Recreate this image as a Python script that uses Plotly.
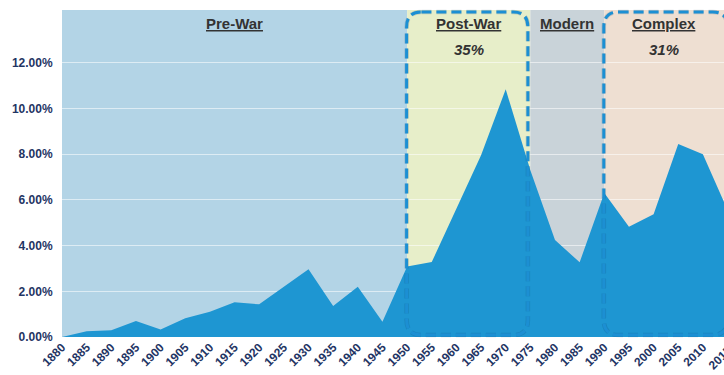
import plotly.graph_objects as go

# Share of output by year (percent)
years = list(range(1880, 2016, 5))
share = [0.0, 0.25, 0.3, 0.7, 0.33, 0.82, 1.1, 1.52, 1.43, 2.2,
         2.96, 1.36, 2.2, 0.67, 3.08, 3.28, 5.6, 7.95, 10.84, 7.3,
         4.24, 3.27, 6.3, 4.83, 5.37, 8.45, 8.0, 5.55]

# Eras: name, start, end, background colour
era_names = ["Pre-War", "Post-War", "Modern", "Complex"]
era_start = [1880, 1950, 1975, 1990]
era_end = [1950, 1975, 1990, 2016]
era_colors = ["#B3D4E6", "#E7EEC9", "#C9D3D9", "#EEDFD2"]

# Highlighted eras, their share labels and frame extents (years)
highlight_eras = ["Post-War", "Complex"]
highlight_text = ["35%", "31%"]
frame_start = [1949.9, 1989.9]
frame_end = [1974.5, 2015.0]

y_ticks = [0, 2, 4, 6, 8, 10, 12]

X_MIN, X_MAX = 1880, 2014.28
Y_MAX = 14.31

NAVY = "#1F3564"
AREA = "#1E96D2"
FONT = "Arial, Liberation Sans, sans-serif"

fig = go.Figure()

fig.add_trace(go.Scatter(
    x=years, y=share, mode="lines", fill="tozeroy",
    line=dict(width=0, color=AREA), fillcolor=AREA,
    hoverinfo="x+y", showlegend=False,
))

shapes = []
annotations = []

# Era background bands (above gridlines, below the area)
for name, s, e, c in zip(era_names, era_start, era_end, era_colors):
    shapes.append(dict(type="rect", xref="x", yref="paper", x0=s, x1=e, y0=0, y1=1,
                       fillcolor=c, line=dict(width=0), layer="between"))
    vis_end = min(e, X_MAX)
    annotations.append(dict(x=(s + vis_end) / 2, y=0.96, xref="x", yref="paper",
                            text="<b><u>" + name + "</u></b>", showarrow=False,
                            font=dict(family=FONT, size=15, color="#333333"),
                            xanchor="center", yanchor="middle"))


def rounded_path(x0, x1, y0, y1, rx, ry):
    return (f"M {x0 + rx},{y1} L {x1 - rx},{y1} Q {x1},{y1} {x1},{y1 - ry} "
            f"L {x1},{y0 + ry} Q {x1},{y0} {x1 - rx},{y0} "
            f"L {x0 + rx},{y0} Q {x0},{y0} {x0},{y0 + ry} "
            f"L {x0},{y1 - ry} Q {x0},{y1} {x0 + rx},{y1} Z")


# Dashed rounded frames around the highlighted eras
for name, label, fs, fe in zip(highlight_eras, highlight_text, frame_start, frame_end):
    i = era_names.index(name)
    path = rounded_path(fs, fe, 0.006, 0.994, 3.0, 0.046)
    shapes.append(dict(type="path", path=path, xref="x", yref="paper",
                       line=dict(color="rgba(10,50,90,0.16)", width=4.5, dash="10px,5px"),
                       layer="above"))
    shapes.append(dict(type="path", path=path, xref="x", yref="paper",
                       line=dict(color="#1C8FD3", width=3, dash="10px,5px"),
                       layer="above"))
    vis_end = min(era_end[i], X_MAX)
    annotations.append(dict(x=(era_start[i] + vis_end) / 2, y=0.878, xref="x", yref="paper",
                            text="<b><i>" + label + "</i></b>", showarrow=False,
                            font=dict(family=FONT, size=15, color="#333333"),
                            xanchor="center", yanchor="middle"))

# Final year tick label sits just past the visible range
x_visible = [y for y in years if y <= X_MAX]
for yr in years:
    if yr > X_MAX:
        annotations.append(dict(x=(yr - X_MIN) / (X_MAX - X_MIN), y=-0.012,
                                xref="paper", yref="paper", text="<b>" + str(yr) + "</b>",
                                textangle=-45, showarrow=False, xanchor="right",
                                yanchor="top", xshift=10,
                                font=dict(family=FONT, size=12, color=NAVY)))

fig.update_layout(
    width=724, height=375,
    margin=dict(l=62, r=0, t=10, b=38),
    paper_bgcolor="white", plot_bgcolor="white",
    shapes=shapes, annotations=annotations,
    font=dict(family=FONT, color=NAVY),
    xaxis=dict(range=[X_MIN, X_MAX], tickvals=x_visible,
               ticktext=["<b>" + str(v) + "</b>" for v in x_visible],
               tickangle=-45, tickfont=dict(size=12, color=NAVY),
               showgrid=False, zeroline=False, showline=False, ticks=""),
    yaxis=dict(range=[0, Y_MAX], tickvals=y_ticks,
               ticktext=[f"<b>{v:.2f}%</b>" for v in y_ticks],
               tickfont=dict(size=12, color=NAVY),
               showgrid=True, gridcolor="rgba(255,255,255,0.55)", gridwidth=1,
               zeroline=False, showline=False, ticks="outside", ticklen=6,
               tickcolor="rgba(0,0,0,0)"),
)

fig.write_html("out.html")
